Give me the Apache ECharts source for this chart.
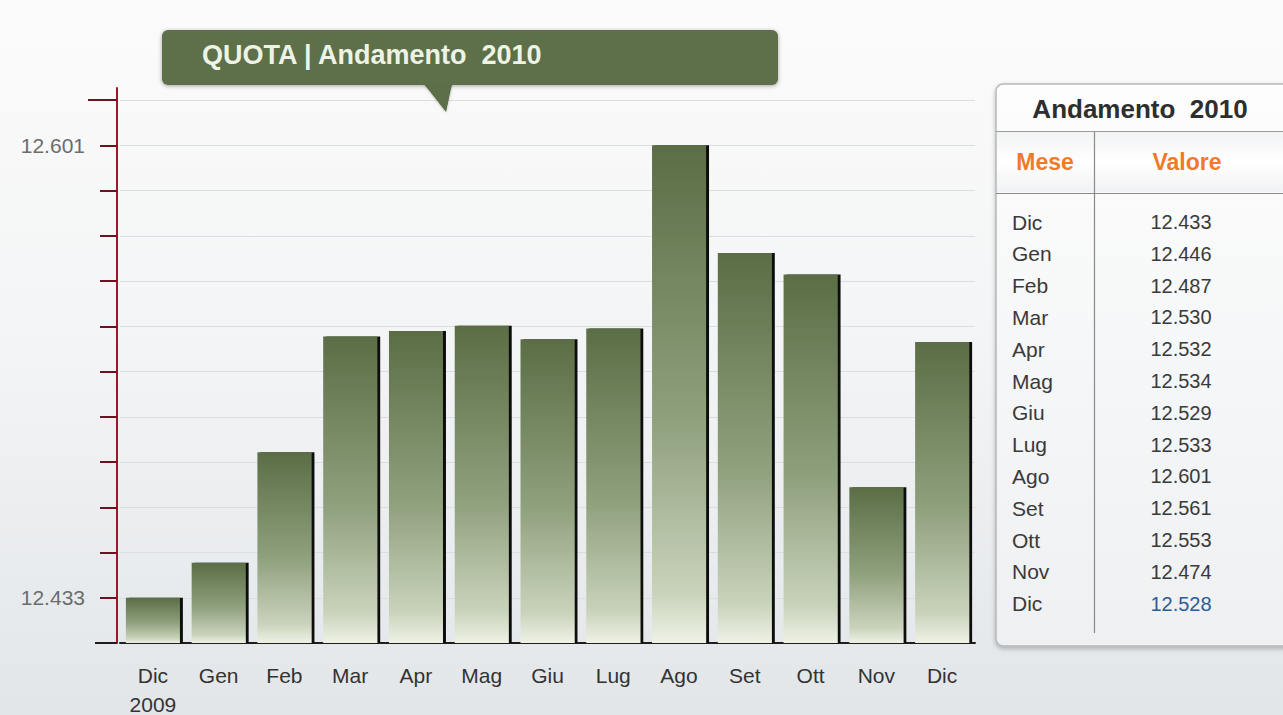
<!DOCTYPE html>
<html>
<head>
<meta charset="utf-8">
<title>QUOTA | Andamento 2010</title>
<script src="https://cdn.jsdelivr.net/npm/echarts@6/dist/echarts.min.js"></script>
<style>
  html, body { margin: 0; padding: 0; }
  body {
    width: 1283px; height: 715px; overflow: hidden;
    background: linear-gradient(to bottom, #fbfbfb 0%, #f4f5f6 45%, #e2e6e9 100%);
  }
  #chart { width: 1283px; height: 715px; }
</style>
</head>
<body>
<div id="chart"></div>
<script>
// Monthly values, December 2009 through December 2010
const xLabels = ['Dic\n2009', 'Gen', 'Feb', 'Mar', 'Apr', 'Mag', 'Giu', 'Lug', 'Ago', 'Set', 'Ott', 'Nov', 'Dic'];
const months  = ['Dic', 'Gen', 'Feb', 'Mar', 'Apr', 'Mag', 'Giu', 'Lug', 'Ago', 'Set', 'Ott', 'Nov', 'Dic'];
const quota   = [12.433, 12.446, 12.487, 12.530, 12.532, 12.534, 12.529, 12.533, 12.601, 12.561, 12.553, 12.474, 12.528];

// Value axis: labelled only at the lowest and highest value, ticks every tenth of that span
const yLabelled = [12.433, 12.601];
const yDivisions = 10;
const yStep = (yLabelled[1] - yLabelled[0]) / yDivisions;
const yTicks = [];
for (let k = -1; k <= yDivisions + 1; k++) yTicks.push(+(yLabelled[0] + k * yStep).toFixed(5));
const yMin = yTicks[0];
const yMax = +(yLabelled[1] + yStep * 1.2655).toFixed(5);

const chart = echarts.init(document.getElementById('chart'), null, { renderer: 'svg' });

const FONT = '"Liberation Sans", Arial, sans-serif';
const OLIVE = '#5d6f48';
const GRID = { left: 120, right: 308, top: 88, bottom: 72 };

// Side table: header, column titles and one row per month
const tableGraphics = [];
const TX = 996, TY = 84, TW = 300, TH = 562;
tableGraphics.push({
  type: 'rect', shape: { x: TX, y: TY, width: TW, height: TH, r: [7, 0, 0, 7] },
  style: {
    fill: new echarts.graphic.LinearGradient(0, 0, 0, 1, [
      { offset: 0, color: '#fdfdfd' }, { offset: 1, color: '#eef0f2' }
    ]),
    stroke: '#b5b7b9', lineWidth: 1.5,
    shadowBlur: 4, shadowColor: 'rgba(0,0,0,0.25)', shadowOffsetY: 2
  }, z: 10
});
tableGraphics.push({
  type: 'rect', shape: { x: TX + 1, y: 132, width: TW, height: 60 },
  style: {
    fill: new echarts.graphic.LinearGradient(0, 0, 0, 1, [
      { offset: 0, color: '#f2f3f4' }, { offset: 0.5, color: '#ffffff' }, { offset: 1, color: '#f1f2f3' }
    ])
  }, z: 11
});
tableGraphics.push({
  type: 'text', x: 1140, y: 109, z: 12,
  style: { text: 'Andamento  2010', font: 'bold 26px ' + FONT, fill: '#2e2e2e', align: 'center', verticalAlign: 'middle' }
});
tableGraphics.push({ type: 'line', z: 12, shape: { x1: TX, y1: 131.5, x2: 1283, y2: 131.5 }, style: { stroke: '#9c9c9c', lineWidth: 1.2 } });
tableGraphics.push({ type: 'line', z: 12, shape: { x1: TX, y1: 193.5, x2: 1283, y2: 193.5 }, style: { stroke: '#8a8a8a', lineWidth: 1.2 } });
tableGraphics.push({ type: 'line', z: 12, shape: { x1: 1094.5, y1: 131, x2: 1094.5, y2: 633 }, style: { stroke: '#8a8a8a', lineWidth: 1.2 } });
tableGraphics.push({
  type: 'text', x: 1045, y: 162, z: 12,
  style: { text: 'Mese', font: 'bold 23px ' + FONT, fill: '#f07a2a', align: 'center', verticalAlign: 'middle',
           shadowBlur: 3, shadowColor: 'rgba(240,140,60,0.45)' }
});
tableGraphics.push({
  type: 'text', x: 1187, y: 162, z: 12,
  style: { text: 'Valore', font: 'bold 23px ' + FONT, fill: '#f07a2a', align: 'center', verticalAlign: 'middle',
           shadowBlur: 3, shadowColor: 'rgba(240,140,60,0.45)' }
});
months.forEach((m, i) => {
  const y = 222 + i * 31.8;
  const last = i === months.length - 1;
  tableGraphics.push({
    type: 'text', x: 1012, y: y, z: 12,
    style: { text: m, font: '21px ' + FONT, fill: '#3a3a3a', align: 'left', verticalAlign: 'middle' }
  });
  tableGraphics.push({
    type: 'text', x: 1181, y: y, z: 12,
    style: { text: quota[i].toFixed(3), font: '20px ' + FONT, fill: last ? '#2b5d98' : '#3a3a3a',
             align: 'center', verticalAlign: 'middle' }
  });
});

// Title balloon with its pointer
const titleGraphics = [
  {
    type: 'polygon', z: 20,
    shape: { points: [[424, 84], [452, 84], [446, 112]] },
    style: { fill: OLIVE, shadowBlur: 3, shadowColor: 'rgba(0,0,0,0.3)' }
  },
  {
    type: 'rect', z: 21,
    shape: { x: 162, y: 30, width: 616, height: 55, r: 6 },
    style: { fill: OLIVE, shadowBlur: 4, shadowColor: 'rgba(0,0,0,0.35)', shadowOffsetY: 1 }
  },
  {
    type: 'polygon', z: 22,
    shape: { points: [[425, 84], [451, 84], [446, 111]] },
    style: { fill: OLIVE }
  },
  {
    type: 'text', x: 202, y: 55, z: 23,
    style: { text: 'QUOTA | Andamento  2010', font: 'bold 27px ' + FONT, fill: '#eef3e6',
             verticalAlign: 'middle', align: 'left' }
  }
];

chart.setOption({
  animation: false,
  backgroundColor: 'transparent',
  grid: Object.assign({ containLabel: false, outerBoundsMode: 'none' }, GRID),
  xAxis: {
    type: 'category',
    data: xLabels,
    axisLine: { show: true, lineStyle: { color: '#1e1e1e', width: 2 } },
    axisTick: { show: false },
    axisLabel: { color: '#333', fontSize: 21, fontFamily: FONT, margin: 18, lineHeight: 29, interval: 0 },
    splitLine: { show: false }
  },
  yAxis: {
    type: 'value',
    min: yMin,
    max: yMax,
    offset: 3,
    axisLine: { show: true, lineStyle: { color: '#a3142c', width: 2 } },
    axisTick: {
      show: true, inside: false, length: 17,
      customValues: yTicks,
      lineStyle: { color: '#6a1420', width: 2 }
    },
    axisLabel: {
      customValues: yLabelled,
      color: '#6c6c6c', fontSize: 21, fontFamily: FONT, margin: 32,
      formatter: v => v.toFixed(3)
    },
    splitLine: { show: true, lineStyle: { color: '#dcdde0', width: 1 } }
  },
  series: [{
    type: 'bar',
    data: quota,
    barWidth: 54,
    itemStyle: {
      color: new echarts.graphic.LinearGradient(0, 0, 0, 1, [
        { offset: 0, color: '#5b6d45' },
        { offset: 0.55, color: '#8fa07d' },
        { offset: 0.9, color: '#c9d3bb' },
        { offset: 1, color: '#eef2e6' }
      ]),
      shadowColor: '#111',
      shadowBlur: 0,
      shadowOffsetX: 3,
      shadowOffsetY: 0
    },
    emphasis: { disabled: true }
  }],
  graphic: { elements: tableGraphics.concat(titleGraphics) }
});

// Baseline stub left of the value axis and the longer top tick, placed from the axis scale
const baseY = chart.convertToPixel({ yAxisIndex: 0 }, yMin);
const topTickY = chart.convertToPixel({ yAxisIndex: 0 }, yTicks[yTicks.length - 1]);
const axisX = GRID.left - 3;
chart.setOption({
  graphic: {
    elements: tableGraphics.concat(titleGraphics).concat([
      { type: 'line', z: 5, shape: { x1: axisX - 22, y1: baseY, x2: axisX, y2: baseY },
        style: { stroke: '#1e1e1e', lineWidth: 2 } },
      { type: 'line', z: 5, shape: { x1: axisX - 29, y1: Math.round(topTickY), x2: axisX - 16, y2: Math.round(topTickY) },
        style: { stroke: '#6a1420', lineWidth: 2 } }
    ])
  }
});
</script>
</body>
</html>
